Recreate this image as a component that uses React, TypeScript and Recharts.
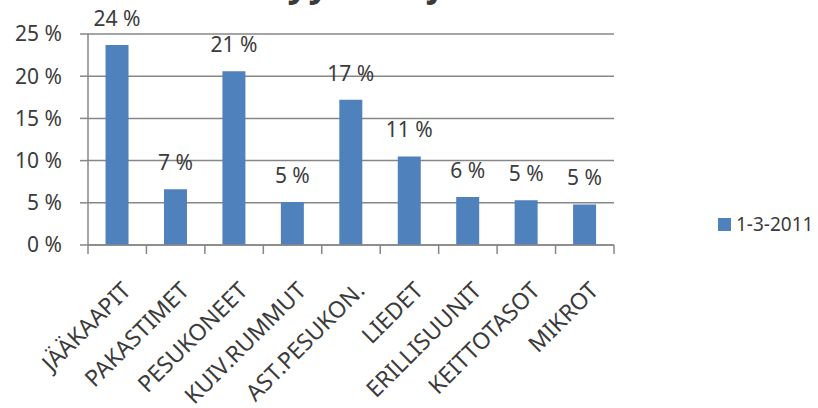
import { BarChart, Bar, XAxis, YAxis, CartesianGrid, LabelList } from "recharts";

// values (share of sales, %)
const categories = [
  "JÄÄKAAPIT",
  "PAKASTIMET",
  "PESUKONEET",
  "KUIV.RUMMUT",
  "AST.PESUKON.",
  "LIEDET",
  "ERILLISUUNIT",
  "KEITTOTASOT",
  "MIKROT",
];
const shares = [23.7, 6.6, 20.6, 5.1, 17.2, 10.5, 5.7, 5.3, 4.8];
const yTicks = [0, 5, 10, 15, 20, 25];
const seriesName = "1-3-2011";
const title = "Myynnin jakauma";

const data = categories.map((name, i) => ({ name, value: shares[i] }));

const FONT = "'Noto Sans', sans-serif";
const TEXT = "#3b3b3b";
const GRID = "#878787";
const BLUE = "#4f81bd";

const TICK_SIZE = 9;
const TICK_MARGIN = 2;

function CategoryTick(props: any) {
  const { x, y, payload, index, visibleTicksCount, width } = props;
  const half = payload.offset ?? width / visibleTicksCount / 2;
  const axisY = y - TICK_SIZE - TICK_MARGIN;
  const isLast = index === visibleTicksCount - 1;
  return (
    <g>
      <line x1={x - half} x2={x - half} y1={axisY} y2={axisY + TICK_SIZE} stroke={GRID} strokeWidth={1.5} />
      {isLast && (
        <line x1={x + half} x2={x + half} y1={axisY} y2={axisY + TICK_SIZE} stroke={GRID} strokeWidth={1.5} />
      )}
      <g transform={`translate(${x + 15},${axisY + 47})`}>
        <text transform="rotate(-45)" textAnchor="end" fontSize={23} fill={TEXT} fontFamily={FONT}>
          {payload.value}
        </text>
      </g>
    </g>
  );
}

function ValueLabel(props: any) {
  const { x, y, width, value } = props;
  return (
    <text
      x={x + width / 2}
      y={y - 19}
      textAnchor="middle"
      fontSize={21}
      fill={TEXT}
      fontFamily={FONT}
    >
      {`${Math.round(Number(value))} %`}
    </text>
  );
}

export default function App() {
  return (
    <div
      style={{
        position: "absolute",
        left: 0,
        top: 0,
        width: 818,
        height: 408,
        overflow: "hidden",
        background: "#fff",
        fontFamily: FONT,
      }}
    >
      <div
        style={{
          position: "absolute",
          left: 257,
          top: -41,
          fontSize: 36,
          fontWeight: 700,
          fontStyle: "italic",
          letterSpacing: 2.5,
          color: TEXT,
          whiteSpace: "nowrap",
          lineHeight: "48px",
        }}
      >
        {title}
      </div>
      <BarChart
        width={818}
        height={408}
        data={data}
        margin={{ top: 34, right: 204, bottom: 0, left: 0 }}
        barCategoryGap="30%"
      >
        <CartesianGrid vertical={false} stroke={GRID} strokeWidth={1.5} />
        <XAxis
          dataKey="name"
          interval={0}
          height={163}
          tickSize={TICK_SIZE}
          tickMargin={TICK_MARGIN}
          tickLine={false}
          axisLine={{ stroke: GRID, strokeWidth: 1.5 }}
          tick={<CategoryTick />}
        />
        <YAxis
          width={88}
          domain={[0, 25]}
          ticks={yTicks}
          tickFormatter={(v: number) => `${v} %`}
          tickSize={8}
          tickMargin={18}
          tickLine={{ stroke: GRID, strokeWidth: 1.5 }}
          axisLine={{ stroke: GRID, strokeWidth: 1.5 }}
          tick={{ fill: TEXT, fontSize: 21, fontFamily: FONT }}
        />
        <Bar dataKey="value" name={seriesName} fill={BLUE} isAnimationActive={false}>
          <LabelList dataKey="value" content={<ValueLabel />} />
        </Bar>
      </BarChart>
      <div
        style={{
          position: "absolute",
          left: 718,
          top: 211,
          display: "flex",
          alignItems: "center",
          fontSize: 19,
          color: TEXT,
          whiteSpace: "nowrap",
        }}
      >
        <span style={{ display: "inline-block", width: 13, height: 13, background: BLUE, marginRight: 5 }} />
        {seriesName}
      </div>
    </div>
  );
}
